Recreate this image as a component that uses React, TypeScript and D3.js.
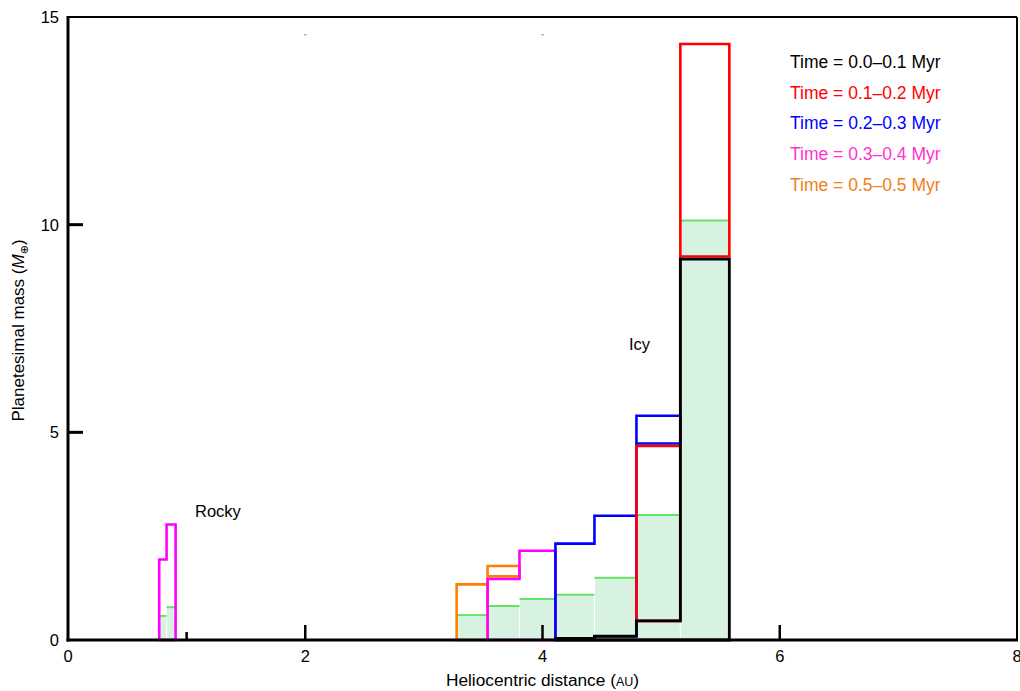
import React from "react";
import * as d3 from "d3";

// ---- data ----
const binLo = [0.769, 0.831, 3.276, 3.537, 3.806, 4.109, 4.438, 4.792, 5.162];
const binHi = [0.831, 0.907, 3.537, 3.806, 4.109, 4.438, 4.792, 5.162, 5.575];

// cumulative planetesimal mass level (M_earth) reached by the end of each interval
const seriesNames = [
  "Time = 0.0–0.1 Myr",
  "Time = 0.1–0.2 Myr",
  "Time = 0.2–0.3 Myr",
  "Time = 0.3–0.4 Myr",
  "Time = 0.5–0.5 Myr",
];
const seriesLineColors = ["#000000", "#ff0000", "#0000ff", "#ff00ff", "#ff8000"];
const seriesTextColors = ["#000000", "#ff0000", "#0000ff", "#ff33cc", "#f08020"];
const level0 = [0, 0, 0, 0, 0, 0.04, 0.09, 0.46, 9.17];
const level1 = [0, 0, 0, 0, 0, 0.04, 0.09, 4.67, 14.35];
const level2 = [0, 0, 0, 0, 0, 2.32, 2.99, 5.4, 14.35];
const level3 = [1.94, 2.78, 0, 1.47, 2.15, 2.32, 2.99, 5.4, 14.35];
const level4 = [1.94, 2.78, 1.34, 1.78, 2.15, 2.32, 2.99, 5.4, 14.35];
const levels = [level0, level1, level2, level3, level4];

// light green reference histogram
const greenValues = [0.58, 0.79, 0.6, 0.82, 0.99, 1.09, 1.5, 3.01, 10.1];

const xTicks = [0, 2, 4, 6, 8];
const yTicks = [0, 5, 10, 15];

// ---- layout ----
const W = 1020;
const H = 691;
const L = 68;
const R = 1017;
const T = 17;
const B = 640;

const x = d3.scaleLinear().domain([0, 8]).range([L, R]);
const y = d3.scaleLinear().domain([0, 15]).range([B, T]);

function seriesPath(k: number): string {
  const cur = levels[k];
  const prev = k > 0 ? levels[k - 1] : cur.map(() => 0);
  const active = cur.map((v, i) => v > prev[i] + 1e-9);
  const runs: number[][] = [];
  let run: number[] = [];
  active.forEach((a, i) => {
    if (a) {
      if (run.length && Math.abs(binHi[run[run.length - 1]] - binLo[i]) > 1e-6) {
        runs.push(run);
        run = [];
      }
      run.push(i);
    } else if (run.length) {
      runs.push(run);
      run = [];
    }
  });
  if (run.length) runs.push(run);
  const off = 2.6;
  const yb = (i: number) => (prev[i] > 1 ? y(prev[i]) - off : y(prev[i]));
  let d = "";
  runs.forEach((r) => {
    const p = d3.path();
    const f = r[0];
    p.moveTo(x(binLo[f]), yb(f));
    p.lineTo(x(binLo[f]), y(cur[f]));
    r.forEach((i, j) => {
      if (j > 0) p.lineTo(x(binLo[i]), y(cur[i]));
      p.lineTo(x(binHi[i]), y(cur[i]));
    });
    for (let j = r.length - 1; j >= 0; j--) {
      const i = r[j];
      p.lineTo(x(binHi[i]), yb(i));
      p.lineTo(x(binLo[i]), yb(i));
    }
    p.closePath();
    d += p.toString();
  });
  return d;
}

export default function App() {
  const font = "'Liberation Sans', Arial, Helvetica, sans-serif";
  return (
    <svg
      width={W}
      height={H}
      style={{ position: "absolute", left: 0, top: 0, background: "#fff" }}
      fontFamily={font}
    >
      <rect x={0} y={0} width={W} height={H} fill="#fff" />
      {/* green fill */}
      {greenValues.map((v, i) => (
        <rect
          key={"gf" + i}
          x={x(binLo[i]) + 0.5}
          y={y(v)}
          width={x(binHi[i]) - x(binLo[i]) - 1}
          height={B - y(v)}
          fill="#d8f2e2"
        />
      ))}
      {greenValues.map((v, i) => (
        <line
          key={"gl" + i}
          x1={x(binLo[i])}
          x2={x(binHi[i])}
          y1={y(v)}
          y2={y(v)}
          stroke="#66e266"
          strokeWidth={2}
        />
      ))}
      {/* series outlines, later first so earliest on top */}
      {[4, 3, 2, 1, 0].map((k) => (
        <path
          key={"s" + k}
          d={seriesPath(k)}
          fill="none"
          stroke={seriesLineColors[k]}
          strokeWidth={k === 0 ? 2.8 : 2.6}
          strokeLinejoin="miter"
        />
      ))}
      {/* frame */}
      <line x1={L} x2={R} y1={T} y2={T} stroke="#000" strokeWidth={2} />
      <line x1={R} x2={R} y1={T} y2={B} stroke="#000" strokeWidth={2} />
      <line x1={L} x2={L} y1={T - 1} y2={B + 1.5} stroke="#000" strokeWidth={3} />
      <line x1={L - 1.5} x2={R + 1} y1={B} y2={B} stroke="#000" strokeWidth={3} />
      {/* inner ticks */}
      {[5, 10].map((v) => (
        <line key={"yt" + v} x1={L} x2={L + 15} y1={y(v)} y2={y(v)} stroke="#000" strokeWidth={3} />
      ))}
      {[2, 4, 6].map((v) => (
        <line key={"xt" + v} x1={x(v)} x2={x(v)} y1={B} y2={B - 15} stroke="#000" strokeWidth={2.5} />
      ))}
      <line x1={x(1)} x2={x(1)} y1={B} y2={B - 8} stroke="#000" strokeWidth={2.5} />
      {[2, 4].map((v) => (
        <rect key={"dot" + v} x={x(v) - 1} y={34} width={2} height={1.5} fill="#999" />
      ))}
      {/* tick labels */}
      {yTicks.map((v) => (
        <text key={"yl" + v} x={L - 9} y={y(v) + 6} textAnchor="end" fontSize={16.5} fill="#000">
          {v}
        </text>
      ))}
      {xTicks.map((v) => (
        <text key={"xl" + v} x={x(v)} y={662} textAnchor="middle" fontSize={16.5} fill="#000">
          {v}
        </text>
      ))}
      {/* axis titles */}
      <text x={x(4)} y={686} textAnchor="middle" fontSize={17.3} fill="#000">
        Heliocentric distance (<tspan fontSize={12.5}>AU</tspan>)
      </text>
      <text
        transform={`translate(24, ${(T + B) / 2 + 2}) rotate(-90)`}
        textAnchor="middle"
        fontSize={17}
        fill="#000"
      >
        Planetesimal mass (<tspan fontStyle="italic">M</tspan>
        <tspan fontSize={11} dy={4} fontFamily="'DejaVu Sans', sans-serif">⊕</tspan>
        <tspan dy={-4}>)</tspan>
      </text>
      {/* annotations */}
      <text x={195} y={517} fontSize={16.5} fill="#000">Rocky</text>
      <text x={629} y={350} fontSize={16.5} fill="#000">Icy</text>
      {/* legend */}
      {seriesNames.map((n, i) => (
        <text key={"lg" + i} x={790} y={68 + i * 30.7} fontSize={17.5} fill={seriesTextColors[i]}>
          {n}
        </text>
      ))}
    </svg>
  );
}
